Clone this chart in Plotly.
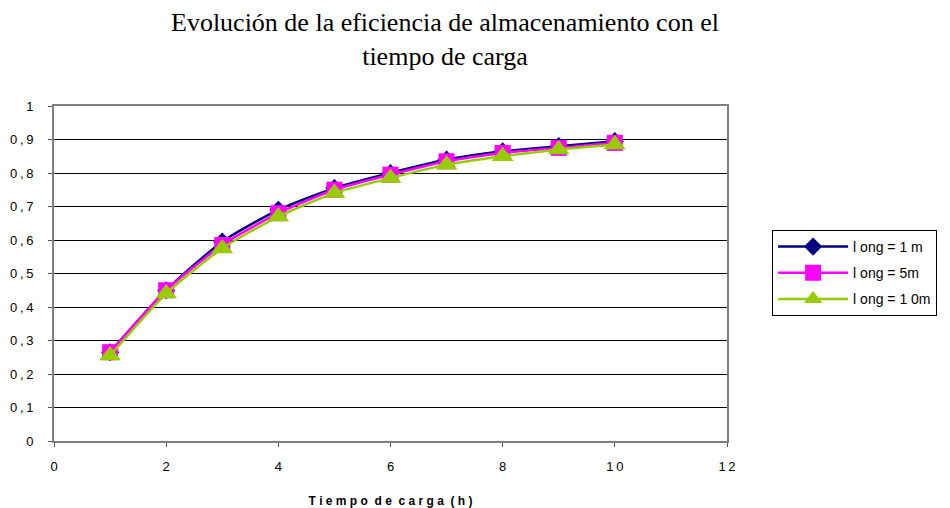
import plotly.graph_objects as go

# Tiempo de carga (h)
tiempo = [1, 2, 3, 4, 5, 6, 7, 8, 9, 10]

# Eficiencia de almacenamiento por longitud
ef_1m = [0.265, 0.450, 0.595, 0.690, 0.755, 0.800, 0.840, 0.865, 0.880, 0.895]
ef_5m = [0.265, 0.450, 0.585, 0.680, 0.750, 0.795, 0.835, 0.860, 0.875, 0.890]
ef_10m = [0.255, 0.440, 0.575, 0.670, 0.740, 0.785, 0.825, 0.850, 0.870, 0.885]

T = "\u2009"  # thin space used for the spaced-out tick lettering
y_ticks = [0, 0.1, 0.2, 0.3, 0.4, 0.5, 0.6, 0.7, 0.8, 0.9, 1]
y_labels = ["0"] + [f"0{T},{T}{d}" for d in range(1, 10)] + ["1"]
x_ticks = [0, 2, 4, 6, 8, 10, 12]
x_labels = ["0", "2", "4", "6", "8", f"1{T}0", f"1{T}2"]

series = [
    ("l ong = 1 m", ef_1m, "#000080", "diamond", 14),
    ("l ong = 5m", ef_5m, "#FF00FF", "square", 16),
    ("l ong = 1 0m", ef_10m, "#99CC00", "triangle-up", 19),
]

fig = go.Figure()
for name, vals, color, symbol, size in series:
    fig.add_trace(go.Scatter(
        x=tiempo, y=vals, name=name, mode="lines+markers", legendgroup=name,
        line=dict(color=color, width=2.5, shape="spline", smoothing=0.6),
        marker=dict(symbol=symbol, size=size, color=color),
    ))

# Two-line chart title
fig.add_annotation(
    text="Evolución de la eficiencia de almacenamiento con el<br>tiempo de carga",
    xref="paper", yref="paper", x=0.581, y=1.0, xanchor="center", yanchor="bottom",
    yshift=33, showarrow=False, align="center",
    font=dict(family="Liberation Serif", size=26, color="black"),
)

fig.update_layout(
    width=950, height=508,
    margin=dict(l=54, r=223, t=106, b=67),
    paper_bgcolor="white", plot_bgcolor="white",
    font=dict(family="Liberation Sans", size=13, color="black"),
    showlegend=True,
    legend=dict(
        x=1.067, y=0.63, xanchor="left", yanchor="top",
        bordercolor="black", borderwidth=1, bgcolor="white",
        font=dict(size=14), tracegroupgap=5, itemwidth=70,
    ),
    xaxis=dict(
        range=[0, 12], tickvals=x_ticks, ticktext=x_labels,
        showgrid=False, zeroline=False, automargin=False,
        showline=True, linecolor="#808080", linewidth=2, mirror=True,
        ticks="outside", ticklen=4, tickcolor="#555555", ticklabelstandoff=8,
        title=dict(text="<b>T i e m p o  d e  c a r g a  ( h )</b>",
                   font=dict(size=12), standoff=25),
    ),
    yaxis=dict(
        range=[0, 1], tickvals=y_ticks, ticktext=y_labels,
        showgrid=True, gridcolor="black", gridwidth=1, zeroline=False,
        automargin=False,
        showline=True, linecolor="#808080", linewidth=2, mirror=True,
        ticks="outside", ticklen=4, tickcolor="#555555", ticklabelstandoff=12,
    ),
)

fig.write_html("out.html")
